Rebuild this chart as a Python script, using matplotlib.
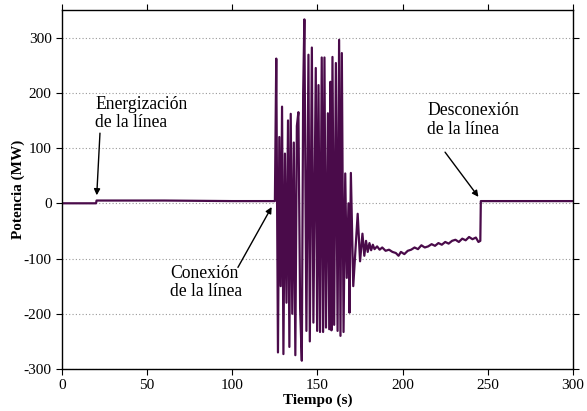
import numpy as np
import matplotlib
matplotlib.use("Agg")
import matplotlib.pyplot as plt

plt.rcParams["font.family"] = ["Liberation Serif", "DejaVu Serif"]
plt.rcParams["axes.unicode_minus"] = False

# tramo antes de la conexion (energizacion en t=20 s)
t_pre = [0, 20, 20.3, 60, 100, 124.8]
p_pre = [0, 0, 5, 5, 4, 4]

# oscilaciones tras la conexion (picos)
t_osc = [125.0, 125.8, 126.8, 127.6, 128.4, 129.2, 130.0, 130.9, 131.8, 132.7,
         133.5, 134.3, 135.2, 136.1, 137.0, 137.9, 138.8, 139.8, 140.8, 141.6,
         142.3, 143.5, 144.7, 145.5, 146.7, 147.6, 149.0, 149.8, 150.6, 151.5,
         152.5, 153.3, 154.1, 155.0, 156.1, 156.9, 157.6, 158.2, 158.8, 159.8,
         160.8, 161.8, 162.7, 163.5, 164.3, 165.3, 166.3, 167.2, 168.2, 168.8,
         169.6, 171.0, 173.6]
p_osc = [4, 262, -270, 120, -150, 175, -273, 90, -180, 150,
         -260, 162, -200, 110, -275, 140, 165, -190, -285, 200,
         333, -231, 269, -250, 282, -216, 245, -231, 214, -233,
         264, -233, 264, -225, 163, -228, 220, -230, 265, -220,
         254, -231, 296, -240, 272, -233, 54, -135, 0, -198,
         55, -150, -19]

# recuperacion hasta la desconexion
t_rec = [175.0, 176.4, 177.5, 178.5, 179.5, 180.5, 181.5, 182.5, 183.5, 185,
         186.5, 188, 190, 192, 194, 196, 197.6, 199, 201, 203,
         205, 207, 209, 211, 213, 215, 217, 219, 221, 223,
         225, 227, 229, 231, 233, 235, 237, 239, 241, 243,
         244.5, 245.6]
p_rec = [-105, -55, -95, -68, -88, -72, -85, -75, -83, -78,
         -84, -80, -86, -84, -88, -90, -95, -88, -92, -86,
         -84, -80, -83, -76, -80, -78, -74, -77, -72, -75,
         -70, -73, -68, -66, -70, -64, -67, -61, -65, -62,
         -70, -68]

# despues de la desconexion
t_post = [245.9, 300]
p_post = [4, 4]

tiempo = np.array(t_pre + t_osc + t_rec + t_post)
potencia = np.array(p_pre + p_osc + p_rec + p_post)

fig = plt.figure(figsize=(5.87, 4.11), dpi=100)
ax = fig.add_axes([0.1056, 0.1022, 0.8705, 0.8735])

ax.plot(tiempo, potencia, color="#4a0b4a", lw=1.6)

ax.set_xlim(0, 300)
ax.set_ylim(-300, 350)
ax.set_xticks(range(0, 301, 50))
ax.set_yticks(range(-300, 301, 100))
ax.yaxis.grid(True, linestyle=(0, (1, 2)), color="#999999", lw=0.8)
ax.tick_params(direction="out", length=4, top=True, right=True,
               labelsize=11)
for s in ax.spines.values():
    s.set_linewidth(1.0)

ax.set_xlabel("Tiempo (s)", fontsize=11, fontweight="bold", labelpad=1)
ax.set_ylabel("Potencia (MW)", fontsize=11, fontweight="bold", labelpad=-1)

arrow = dict(arrowstyle="-|>", color="black", lw=1.0, mutation_scale=9,
             shrinkA=0, shrinkB=0)
ax.annotate("", xy=(20.4, 14.5), xytext=(22.3, 127), arrowprops=arrow)
ax.text(19.4, 163, "Energización\nde la línea", fontsize=12.7, ha="left",
        va="center", linespacing=1.1)
ax.annotate("", xy=(123.1, -6.7), xytext=(103.3, -116), arrowprops=arrow)
ax.text(63.4, -143, "Conexión\nde la línea", fontsize=12.7, ha="left",
        va="center", linespacing=1.1)
ax.annotate("", xy=(244.5, 11.6), xytext=(224.9, 92.6), arrowprops=arrow)
ax.text(214.3, 150.6, "Desconexión\nde la línea", fontsize=12.7, ha="left",
        va="center", linespacing=1.1)

fig.savefig("out.png", dpi=100)
